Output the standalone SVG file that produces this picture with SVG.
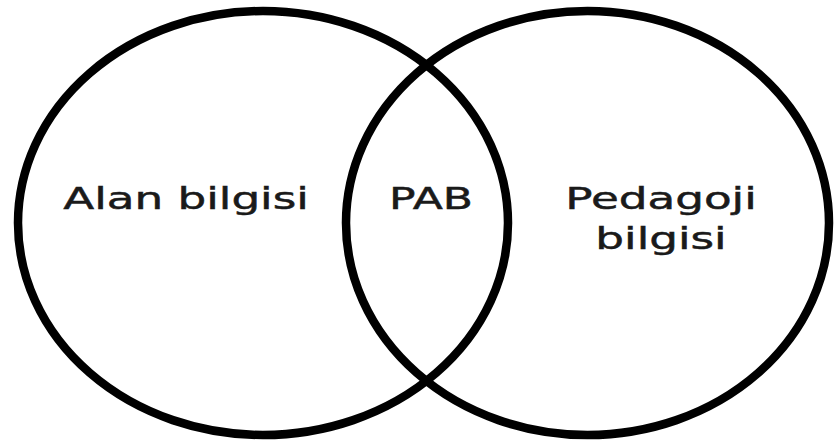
<svg xmlns="http://www.w3.org/2000/svg" width="840" height="441" viewBox="0 0 840 441">
  <style>
    .set { fill: none; stroke: #000; stroke-width: 8.5; }
    .label { font-family: "DejaVu Sans", Verdana, sans-serif; font-size: 31px; fill: #1a1a1a; stroke: #1a1a1a; stroke-width: 0.5; text-anchor: middle; }
  </style>
  <rect width="840" height="441" fill="#fff"/>
  <g id="alan-bilgisi">
    <ellipse class="set" cx="263" cy="223" rx="245" ry="212"/>
    <text class="label" transform="translate(186 209) scale(1.46 1)">Alan bilgisi</text>
  </g>
  <g id="pedagoji-bilgisi">
    <ellipse class="set" cx="587.5" cy="223" rx="241.5" ry="212"/>
    <text class="label" transform="translate(661 209) scale(1.46 1)">Pedagoji</text>
    <text class="label" transform="translate(661 248.5) scale(1.46 1)">bilgisi</text>
  </g>
  <g id="pab">
    <text class="label" transform="translate(431 209) scale(1.42 1)">PAB</text>
  </g>
</svg>
